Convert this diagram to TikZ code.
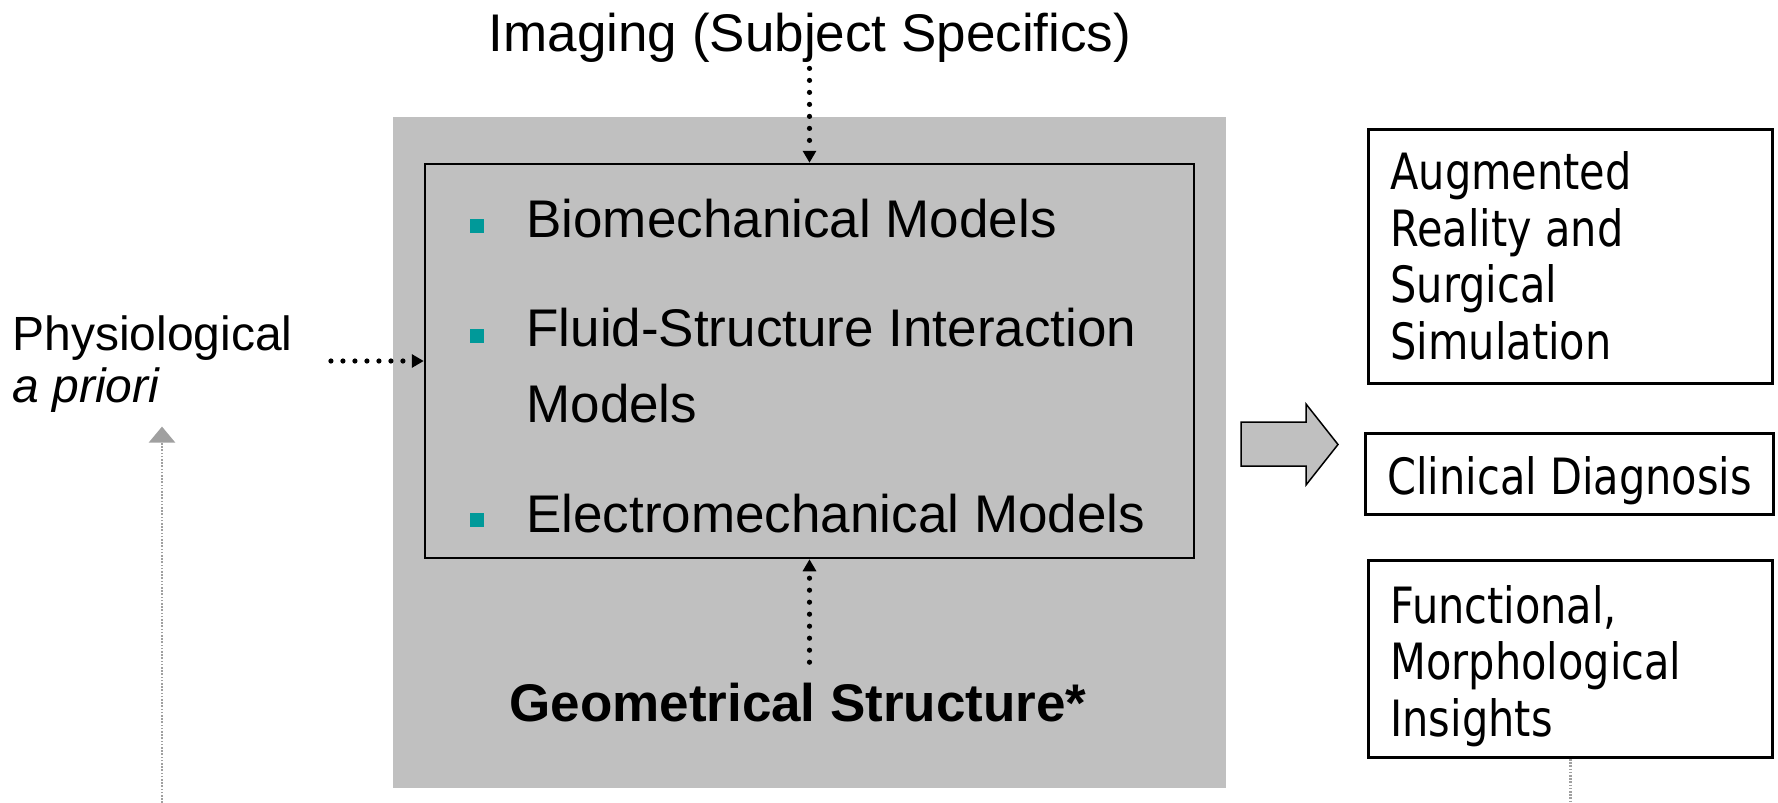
\documentclass[tikz,border=0pt]{standalone}
\usepackage{fontspec}
\setmainfont{Liberation Sans}
\newfontfamily\rfont[FakeStretch=0.83]{DejaVu Sans}
\usetikzlibrary{arrows.meta}
\definecolor{silverbg}{RGB}{192,192,192}
\definecolor{bulletteal}{RGB}{0,153,153}
\definecolor{arrowgray}{RGB}{160,160,160}
\begin{document}
\begin{tikzpicture}[x=0.5pt,y=-0.5pt,
  maintext/.style={inner sep=0pt, font=\fontsize{26.5}{30}\selectfont},
  sidetext/.style={inner sep=0pt, align=left, font=\fontsize{24}{26.2}\selectfont},
  righttext/.style={inner sep=0pt, align=left, font=\rfont\fontsize{25}{28.35}\selectfont},
  rbox/.style={draw, line width=1.5pt, inner sep=0pt},
  bulletsq/.style={fill=bulletteal, inner sep=0pt, minimum size=7pt},
  dotarrow/.style={line width=2.6pt, line cap=round, dash pattern=on 0pt off 6pt, -{Triangle[length=6pt,width=6.5pt]}},
  grayarrow/.style={draw=arrowgray, line width=1.3pt, dash pattern=on 0.8pt off 0.8pt, -{Triangle[length=8pt,width=13pt,fill=arrowgray]}},
  graydot/.style={draw=arrowgray, line width=1.3pt, dash pattern=on 0.8pt off 0.8pt},
  blockarrow/.style={draw, line width=0.75pt, fill=silverbg},
]
\useasboundingbox (0,0) rectangle (1778,803);

% grey background panel
\node[fill=silverbg, inner sep=0pt, minimum width=416.5pt, minimum height=335.5pt] (panel) at (809.5,452.5) {};
% models box
\node[draw, line width=1.25pt, inner sep=0pt, minimum width=384.5pt, minimum height=197pt] (models) at (809.5,361) {};

% bullets and model texts
\node[bulletsq] (bu1) at (477,226) {};
\node[bulletsq] (bu2) at (477,336) {};
\node[bulletsq] (bu3) at (477,520) {};
\node[maintext, anchor=base west] (bio) at (526,237) {Biomechanical Models};
\node[maintext, anchor=base west] (fsi) at (526,346) {Fluid-Structure Interaction};
\node[maintext, anchor=base west] (fsi2) at (526,422) {Models};
\node[maintext, anchor=base west] (elec) at (526,532) {Electromechanical Models};

% top / bottom labels
\node[maintext, anchor=base] (imaging) at (810,51) {Imaging (Subject Specifics)};
\node[maintext, anchor=base, font=\fontsize{26.5}{30}\selectfont\bfseries] (geo) at (798,721) {Geometrical Structure*};

% left label
\node[sidetext, anchor=north west] (phys) at (12,313) {\strut Physiological\\\strut\textit{a priori}};
\coordinate (gbot) at (162,803);

% dotted connectors
\draw[dotarrow, shorten <=3pt] (imaging.south -| models.north) -- (models.north);
\draw[dotarrow, shorten <=10pt] (models.south |- geo.north) -- (models.south);
\draw[dotarrow, shorten <=19pt] (phys.east |- models.west) -- (models.west);
\draw[grayarrow, shorten >=4pt] (gbot) -- (gbot |- phys.south);

% block arrow
\draw[blockarrow] (1241,422) -- (1306,422) -- (1306,404) -- (1338,444.5) -- (1306,485) -- (1306,466) -- (1241,466) -- cycle;

% right boxes
\node[rbox, minimum width=201.85pt, minimum height=127pt] (box1) at (1570.5,256.3) {};
\node[rbox, minimum width=204.3pt, minimum height=40.9pt] (box2) at (1569.3,473.9) {};
\node[rbox, minimum width=201.85pt, minimum height=98.65pt] (box3) at (1570.5,658.85) {};
\node[righttext, anchor=north west] (t1) at (1390,149.3) {\strut Augmented\\\strut Reality and\\\strut Surgical\\\strut Simulation};
\node[righttext, anchor=base west] (t2) at (1387,494.5) {Clinical Diagnosis};
\node[righttext, anchor=north west] (t3) at (1390,583) {\strut Functional,\\\strut Morphological\\\strut Insights};
\coordinate (rbot) at (1570.5,803);
\draw[graydot] (box3.south) -- (rbot);
\end{tikzpicture}
\end{document}
